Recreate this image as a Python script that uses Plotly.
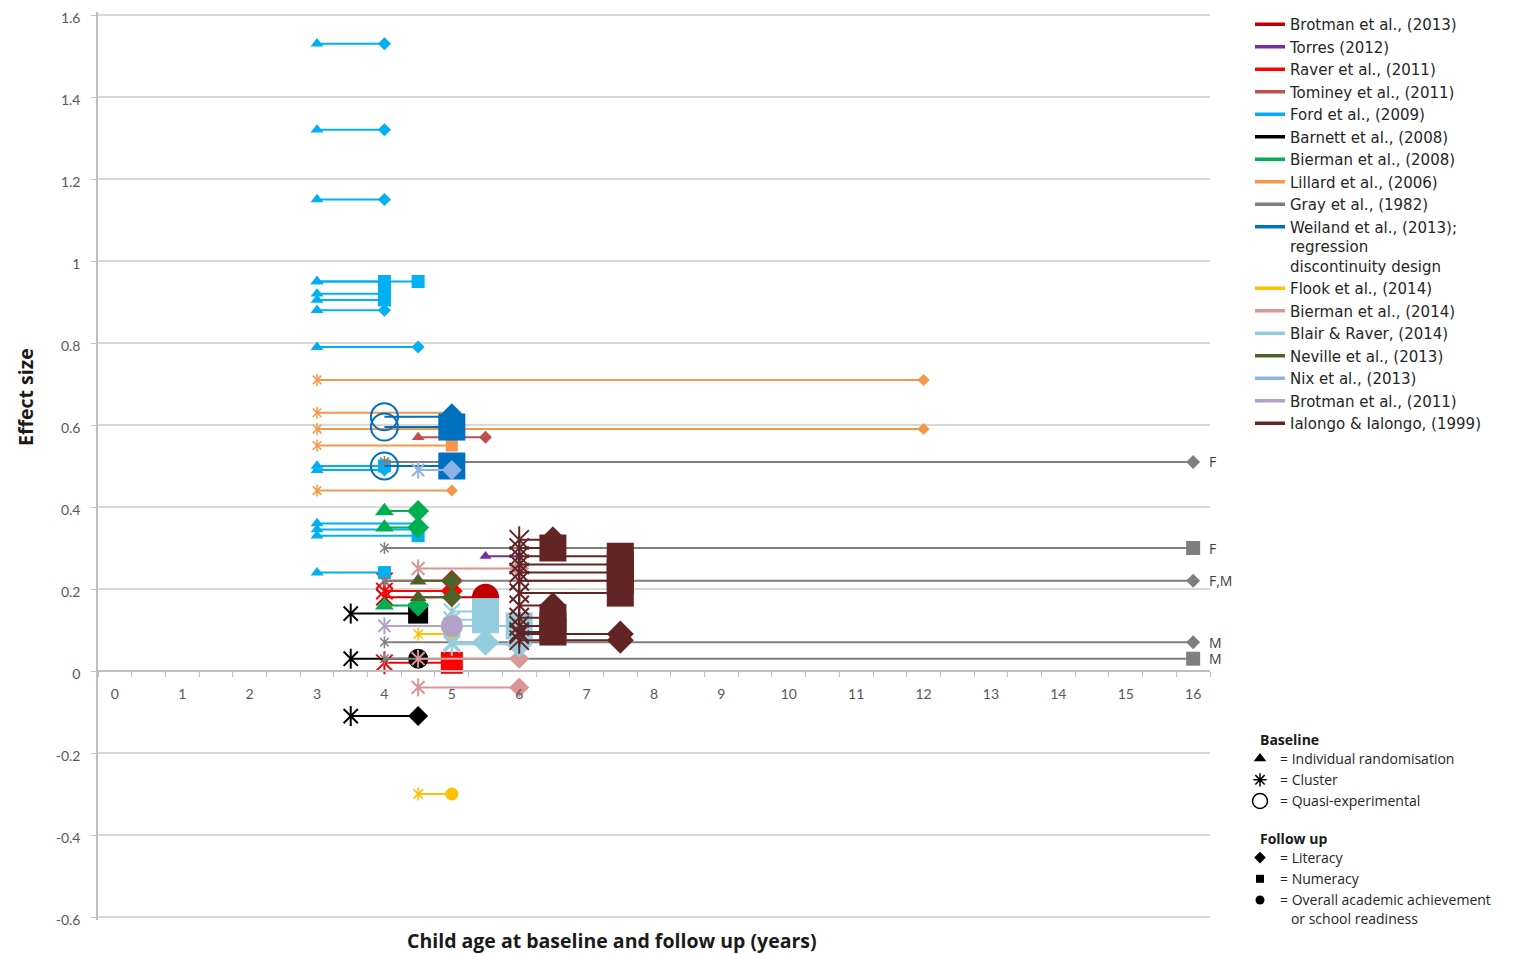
import plotly.graph_objects as go

# ---------------- DATA ----------------
# Each study: baseline age, follow-up age, effect size, follow-up outcome
# outcome codes: L = literacy, N = numeracy, O = overall achievement / school readiness
# design: individual randomisation / cluster / quasi-experimental

brotman13_design = "cluster"
brotman13_base = [4.0]
brotman13_follow = [5.5]
brotman13_es = [0.18]
brotman13_outcome = ["O"]

torres_design = "individual"
torres_base = [5.5]
torres_follow = [6.0]
torres_es = [0.28]
torres_outcome = ["L"]

raver_design = "cluster"
raver_base = [4.0, 4.0, 4.0]
raver_follow = [5.0, 5.0, 5.0]
raver_es = [0.22, 0.195, 0.02]
raver_outcome = ["L", "L", "N"]

tominey_design = "individual"
tominey_base = [4.5]
tominey_follow = [5.5]
tominey_es = [0.57]
tominey_outcome = ["L"]

ford_design = "individual"
ford_base = [3, 3, 3, 3, 3, 3, 3, 3, 3, 3, 3, 3, 3, 3, 3]
ford_follow = [4, 4, 4, 4, 4.5, 4, 4, 4, 4.5, 4, 4, 4.5, 4.5, 4.5, 4]
ford_es = [1.53, 1.32, 1.15, 0.95, 0.95, 0.92, 0.905, 0.88, 0.79, 0.50, 0.49, 0.36, 0.345, 0.33, 0.24]
ford_outcome = ["L", "L", "L", "N", "N", "N", "N", "L", "L", "N", "L", "L", "L", "N", "N"]

barnett_design = "cluster"
barnett_base = [3.5, 3.5, 3.5]
barnett_follow = [4.5, 4.5, 4.5]
barnett_es = [0.14, 0.03, -0.11]
barnett_outcome = ["N", "O", "L"]

bierman08_design = "individual"
bierman08_base = [4, 4, 4]
bierman08_follow = [4.5, 4.5, 4.5]
bierman08_es = [0.39, 0.35, 0.16]
bierman08_outcome = ["L", "L", "L"]

lillard_design = "cluster"
lillard_base = [3, 3, 3, 3, 3]
lillard_follow = [12, 5, 12, 5, 5]
lillard_es = [0.71, 0.63, 0.59, 0.55, 0.44]
lillard_outcome = ["L", "L", "L", "N", "L"]

gray_design = "cluster"
gray_base = [4, 4, 4, 4, 4]
gray_follow = [16, 16, 16, 16, 16]
gray_es = [0.51, 0.30, 0.22, 0.07, 0.03]
gray_outcome = ["L", "N", "L", "L", "N"]
gray_sex = ["F", "F", "F,M", "M", "M"]

weiland_design = "quasi"
weiland_base = [4, 4, 4]
weiland_follow = [5, 5, 5]
weiland_es = [0.62, 0.595, 0.50]
weiland_outcome = ["L", "N", "N"]

flook_design = "cluster"
flook_base = [4.5, 4.5]
flook_follow = [5, 5]
flook_es = [0.09, -0.30]
flook_outcome = ["O", "O"]

bierman14_design = "cluster"
bierman14_base = [4.5, 4.5, 4.5]
bierman14_follow = [6, 6, 6]
bierman14_es = [0.25, 0.03, -0.04]
bierman14_outcome = ["L", "L", "L"]

blair_design = "cluster"
blair_base = [5, 5, 5, 5, 5]
blair_follow = [5.5, 5.5, 5.5, 6, 6]
blair_es = [0.145, 0.125, 0.07, 0.11, 0.065]
blair_outcome = ["N", "N", "L", "N", "L"]

neville_design = "individual"
neville_base = [4.5, 4.5]
neville_follow = [5, 5]
neville_es = [0.22, 0.18]
neville_outcome = ["L", "L"]

nix_design = "cluster"
nix_base = [4.5]
nix_follow = [5]
nix_es = [0.49]
nix_outcome = ["L"]

brotman11_design = "cluster"
brotman11_base = [4]
brotman11_follow = [5]
brotman11_es = [0.11]
brotman11_outcome = ["O"]

ialongo_design = "cluster"
ialongo_base = [6, 6, 6, 6, 6, 6, 6, 6, 6, 6, 6, 6, 6]
ialongo_follow = [6.5, 6.5, 7.5, 7.5, 7.5, 7.5, 7.5, 6.5, 6.5, 6.5, 6.5, 7.5, 7.5]
ialongo_es = [0.32, 0.30, 0.28, 0.26, 0.24, 0.22, 0.19, 0.16, 0.13, 0.11, 0.095, 0.09, 0.075]
ialongo_outcome = ["L", "N", "N", "N", "N", "N", "N", "L", "N", "N", "N", "L", "L"]

x_tick_values = list(range(0, 17))
y_tick_values = [-0.6, -0.4, -0.2, 0, 0.2, 0.4, 0.6, 0.8, 1.0, 1.2, 1.4, 1.6]
y_tick_labels = ["-0.6", "-0.4", "-0.2", "0", "0.2", "0.4", "0.6", "0.8", "1", "1.2", "1.4", "1.6"]

studies = [
    ("Brotman et al., (2013)", brotman13_design, brotman13_base, brotman13_follow, brotman13_es, brotman13_outcome),
    ("Torres (2012)", torres_design, torres_base, torres_follow, torres_es, torres_outcome),
    ("Raver et al., (2011)", raver_design, raver_base, raver_follow, raver_es, raver_outcome),
    ("Tominey et al., (2011)", tominey_design, tominey_base, tominey_follow, tominey_es, tominey_outcome),
    ("Ford et al., (2009)", ford_design, ford_base, ford_follow, ford_es, ford_outcome),
    ("Barnett et al., (2008)", barnett_design, barnett_base, barnett_follow, barnett_es, barnett_outcome),
    ("Bierman et al., (2008)", bierman08_design, bierman08_base, bierman08_follow, bierman08_es, bierman08_outcome),
    ("Lillard et al., (2006)", lillard_design, lillard_base, lillard_follow, lillard_es, lillard_outcome),
    ("Gray et al., (1982)", gray_design, gray_base, gray_follow, gray_es, gray_outcome),
    ("Weiland et al., (2013);<br>regression<br>discontinuity design", weiland_design, weiland_base, weiland_follow, weiland_es, weiland_outcome),
    ("Flook et al., (2014)", flook_design, flook_base, flook_follow, flook_es, flook_outcome),
    ("Bierman et al., (2014)", bierman14_design, bierman14_base, bierman14_follow, bierman14_es, bierman14_outcome),
    ("Blair & Raver, (2014)", blair_design, blair_base, blair_follow, blair_es, blair_outcome),
    ("Neville et al., (2013)", neville_design, neville_base, neville_follow, neville_es, neville_outcome),
    ("Nix et al., (2013)", nix_design, nix_base, nix_follow, nix_es, nix_outcome),
    ("Brotman et al., (2011)", brotman11_design, brotman11_base, brotman11_follow, brotman11_es, brotman11_outcome),
    ("Ialongo & Ialongo, (1999)", ialongo_design, ialongo_base, ialongo_follow, ialongo_es, ialongo_outcome),
]

# ---------------- STYLE ----------------
# colour, apparent start-marker width (px), apparent end-marker width (px)
STYLE = [
    ("#C00000", 23, 27),
    ("#7030A0", 12, 10),
    ("#FF0000", 23, 22),
    ("#C0504D", 13, 13),
    ("#00B0F0", 13, 13),
    ("#000000", 20, 20),
    ("#00B050", 19, 22),
    ("#F79646", 12, 12),
    ("#7F7F7F", 12, 14),
    ("#0070C0", 27, 27),
    ("#FFC000", 13, 13),
    ("#D99694", 18, 20),
    ("#93CDDD", 23, 27),
    ("#4F6228", 17, 20),
    ("#8DB3E2", 17, 20),
    ("#B3A2C7", 17, 22),
    ("#632523", 27, 27),
]
OUT_SYM = {"L": "diamond", "N": "square", "O": "circle"}
SYM_SCALE = {"diamond": 1 / 1.3, "square": 1.0, "circle": 1.0, "triangle-up": 1 / 1.155}

FONT = "Lato, 'Open Sans', sans-serif"
FONT_W = "'Open Sans', Lato, sans-serif"
FONT_LEG = "'DejaVu Sans', 'Open Sans', sans-serif"
TICK_GREY = "#595959"

# page body adds an 8px offset; all target positions below are screen pixels
OFF = 8
W, H = 1516 - OFF, 954 - OFF
Y_TOP_PX, Y_BOT_PX = 15, 917      # screen px of y = 1.6 and y = -0.6
PADPX = 3                          # keep end gridlines slightly inside the plot area
ymin, ymax = -0.6, 1.6
upp = (ymax - ymin) / (Y_BOT_PX - Y_TOP_PX)
pad = PADPX * upp
PLOT_L, PLOT_T, PLOT_R, PLOT_B = 98, Y_TOP_PX - PADPX, 1210, Y_BOT_PX + PADPX
L, T = PLOT_L - OFF, PLOT_T - OFF
B = H - (PLOT_B - OFF)
R = 10
PW, PH = W - L - R, H - T - B


def px_x(px):
    return (px - OFF - L) / PW


def px_y(py):
    return (H - B - (py - OFF)) / PH


fig = go.Figure()

# legend-only entries (study lines)
for (name, *_), (color, _, _) in zip(studies, STYLE):
    fig.add_trace(go.Scatter(x=[None], y=[None], mode="lines", name=name,
                             line=dict(color=color, width=3.5), legend="legend"))

# data
for (name, design, base, follow, es, outcome), (color, s0, s1) in zip(studies, STYLE):
    lx, ly = [], []
    for b, f, e in zip(base, follow, es):
        lx += [b, f, None]
        ly += [e, e, None]
    fig.add_trace(go.Scatter(x=lx, y=ly, mode="lines", line=dict(color=color, width=2),
                             showlegend=False, hoverinfo="skip"))
    # baseline markers
    if design == "cluster":
        lw = 2 if s0 >= 17 else 1.5
        for sym in ["x-thin-open", "line-ns-open"]:
            fig.add_trace(go.Scatter(x=base, y=es, mode="markers", showlegend=False,
                                     marker=dict(symbol=sym, size=s0 / 1.4, color=color, opacity=1,
                                                 line=dict(color=color, width=lw))))
    elif design == "individual":
        fig.add_trace(go.Scatter(x=base, y=es, mode="markers", showlegend=False,
                                 marker=dict(symbol="triangle-up", size=s0 * SYM_SCALE["triangle-up"],
                                             color=color, opacity=1, line=dict(width=0))))
    else:
        fig.add_trace(go.Scatter(x=base, y=es, mode="markers", showlegend=False,
                                 marker=dict(symbol="circle-open", size=s0, color=color, opacity=1,
                                             line=dict(color=color, width=2))))
    # follow-up markers
    syms = [OUT_SYM[o] for o in outcome]
    sizes = [s1 * SYM_SCALE[s] for s in syms]
    fig.add_trace(go.Scatter(x=follow, y=es, mode="markers", showlegend=False,
                             marker=dict(symbol=syms, size=sizes, color=color, opacity=1,
                                         line=dict(width=0))))

# F / M labels for Gray et al.
for f, e, lab in zip(gray_follow, gray_es, gray_sex):
    fig.add_annotation(x=f, y=e, xref="x", yref="y", text=lab, showarrow=False, xshift=14,
                       xanchor="left", yanchor="middle", font=dict(family=FONT_W, size=14, color="#404040"))

# key legends (baseline & follow-up)
key_base = [("= Individual randomisation", dict(symbol="triangle-up", size=11, color="black", opacity=1)),
            ("= Cluster", dict(symbol="asterisk-open", size=11, color="black", opacity=1,
                               line=dict(color="black", width=1.5))),
            ("= Quasi-experimental", dict(symbol="circle-open", size=15, color="black", opacity=1,
                                          line=dict(color="black", width=1.5)))]
for nm, mk in key_base:
    fig.add_trace(go.Scatter(x=[None], y=[None], mode="markers", name=nm, marker=mk, legend="legend2"))
key_follow = [("= Literacy", dict(symbol="diamond", size=9, color="black", opacity=1)),
              ("= Numeracy", dict(symbol="square", size=8, color="black", opacity=1)),
              ("= Overall academic achievement<br>\u00a0\u00a0\u00a0or school readiness",
               dict(symbol="circle", size=9, color="black", opacity=1))]
for nm, mk in key_follow:
    fig.add_trace(go.Scatter(x=[None], y=[None], mode="markers", name=nm, marker=mk, legend="legend3"))

fig.add_annotation(x=px_x(1258), y=px_y(739), xref="paper", yref="paper", text="<b>Baseline</b>",
                   showarrow=False, xanchor="left", yanchor="middle", font=dict(family=FONT_W, size=14, color="#1a1a1a"))
fig.add_annotation(x=px_x(1258), y=px_y(838), xref="paper", yref="paper", text="<b>Follow up</b>",
                   showarrow=False, xanchor="left", yanchor="middle", font=dict(family=FONT_W, size=14, color="#1a1a1a"))

# axis titles
fig.add_annotation(x=px_x(612), y=px_y(940), xref="paper", yref="paper",
                   text="<b>Child age at baseline and follow up (years)</b>", showarrow=False,
                   xanchor="center", yanchor="middle", font=dict(family=FONT_W, size=19.5, color="#1a1a1a"))
fig.add_annotation(x=px_x(25), y=px_y(397), xref="paper", yref="paper", text="<b>Effect size</b>",
                   textangle=-90, showarrow=False, xanchor="center", yanchor="middle",
                   font=dict(family=FONT_W, size=19.5, color="#1a1a1a"))

zero_pos = (0 - (ymin - pad)) / (ymax - ymin + 2 * pad)

fig.update_layout(
    width=W, height=H,
    margin=dict(l=L, r=R, t=T, b=B, autoexpand=False),
    plot_bgcolor="white", paper_bgcolor="white",
    font=dict(family=FONT, color="#333333"),
    xaxis=dict(range=[-0.25, 16.25], domain=[0, px_x(PLOT_R)], anchor="free", position=zero_pos,
               tickvals=x_tick_values, ticktext=[str(v) for v in x_tick_values],
               ticks="", showgrid=False, zeroline=False, showline=True, linecolor="#BFBFBF", linewidth=1.5,
               tickfont=dict(family=FONT, size=14, color=TICK_GREY), ticklabelstandoff=10,
               minor=dict(ticks="outside", tick0=0.25, dtick=0.5, ticklen=5, tickcolor="#BFBFBF", showgrid=False)),
    yaxis=dict(range=[ymin - pad, ymax + pad], domain=[0, 1], tickvals=y_tick_values, ticktext=y_tick_labels,
               showgrid=True, gridcolor="#D9D9D9", gridwidth=1.5, zeroline=False,
               showline=True, linecolor="#BFBFBF", linewidth=1.5, ticks="outside", ticklen=5, tickcolor="#BFBFBF",
               tickfont=dict(family=FONT, size=14, color=TICK_GREY), ticklabelstandoff=8,
               ticklabelshift=3, ticklabeloverflow="allow"),
    legend=dict(x=1242 / W, y=1 + 16 / H, xref="container", yref="container", xanchor="left", yanchor="top",
                font=dict(family=FONT_LEG, size=15, color="#262626"), valign="top", bgcolor="rgba(0,0,0,0)",
                tracegroupgap=0),
    legend2=dict(x=1232 / W, y=1 - 735 / H, xref="container", yref="container", xanchor="left", yanchor="top",
                 font=dict(family=FONT_W, size=14, color="#262626"), valign="middle", bgcolor="rgba(0,0,0,0)",
                 itemsizing="trace"),
    legend3=dict(x=1232 / W, y=1 - 834 / H, xref="container", yref="container", xanchor="left", yanchor="top",
                 font=dict(family=FONT_W, size=14, color="#262626"), valign="top", bgcolor="rgba(0,0,0,0)",
                 itemsizing="trace"),
    showlegend=True,
)

fig.write_html("out.html")
